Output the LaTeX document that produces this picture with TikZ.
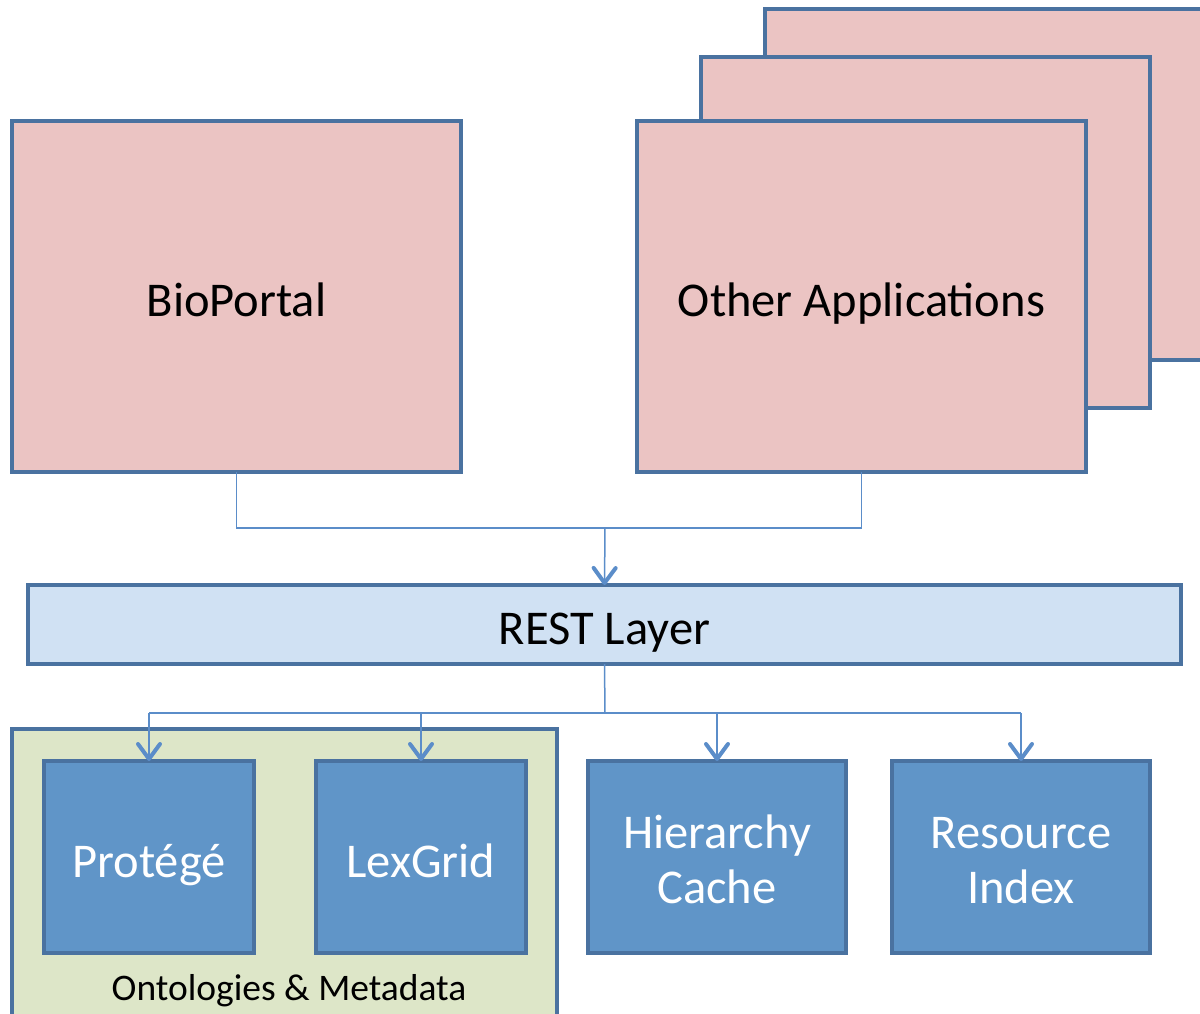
\documentclass[tikz,border=0pt]{standalone}
\usepackage{fontspec}
\setmainfont{Carlito}
\usetikzlibrary{arrows.meta}
\definecolor{pinkfill}{HTML}{EBC4C3}
\definecolor{edgeblue}{HTML}{4A72A0}
\definecolor{restfill}{HTML}{D0E1F3}
\definecolor{greenfill}{HTML}{DDE6C8}
\definecolor{bluefill}{HTML}{6095C8}
\definecolor{conn}{HTML}{5B8DC9}
\tikzset{
  x=1pt, y=-1pt,
  basebox/.style={draw=edgeblue, line width=4pt, rectangle, anchor=north west, inner sep=0pt, outer sep=0pt, font=\fontsize{48.5}{55}\selectfont},
  oneline/.style={text height=40pt, text depth=0pt},
  appbox/.style={basebox, oneline, fill=pinkfill, text=black},
  restbox/.style={basebox, oneline, fill=restfill, text=black},
  compbox/.style={basebox, fill=bluefill, text=white, align=center},
  groupbox/.style={draw=edgeblue, line width=4pt, fill=greenfill, rectangle, anchor=north west, inner sep=0pt, outer sep=0pt},
  link/.style={draw=conn, line width=1.5pt},
  arrowlink/.style={link, -{Straight Barb[length=15pt, width=22pt, line width=4pt, round]}},
}
\begin{document}
\begin{tikzpicture}
\useasboundingbox (0,0) rectangle (1200,1014);
\begin{scope}
\clip (0,0) rectangle (1200,1014);
% stacked application boxes
\node[appbox, minimum width=449pt, minimum height=351pt] (back) at (765,9) {};
\node[appbox, minimum width=449pt, minimum height=351pt] (mid) at (701,57) {};
\node[appbox, minimum width=449pt, minimum height=351pt] (other) at (637,121) {Other Applications};
\node[appbox, minimum width=449pt, minimum height=351pt] (bio) at (12,121) {BioPortal};
% REST layer
\node[restbox, minimum width=1153pt, minimum height=79pt] (rest) at (28,585) {REST Layer};
% group box
\node[groupbox, minimum width=545pt, minimum height=320pt] (group) at (12,729) {};
\node[font=\fontsize{37.5}{44}\selectfont, text=black, anchor=base] (grouplabel) at (289,1000) {Ontologies \& Metadata};
% components
\node[compbox, oneline, minimum width=210pt, minimum height=192pt] (protege) at (44,761) {Protégé};
\node[compbox, oneline, minimum width=210pt, minimum height=192pt] (lexgrid) at (316,761) {LexGrid};
\node[compbox, text height=92pt, text depth=0pt, minimum width=258pt, minimum height=192pt] (hier) at (588,761) {Hierarchy\\Cache};
\node[compbox, text height=92pt, text depth=0pt, minimum width=258pt, minimum height=192pt] (resix) at (892,761) {Resource\\Index};
\end{scope}
% connectors top
\coordinate (j1) at (605,528);
\draw[link] (bio.south) |- (j1) -| (other.south);
\draw[arrowlink] (j1) -- (rest.north);
% connectors bottom
\coordinate (j2) at (605,713);
\draw[link] (rest.south) -- (j2);
\draw[link] (protege.north |- j2) -- (resix.north |- j2);
\draw[arrowlink] (protege.north |- j2) -- (protege.north);
\draw[arrowlink] (lexgrid.north |- j2) -- (lexgrid.north);
\draw[arrowlink] (hier.north |- j2) -- (hier.north);
\draw[arrowlink] (resix.north |- j2) -- (resix.north);
\end{tikzpicture}
\end{document}
